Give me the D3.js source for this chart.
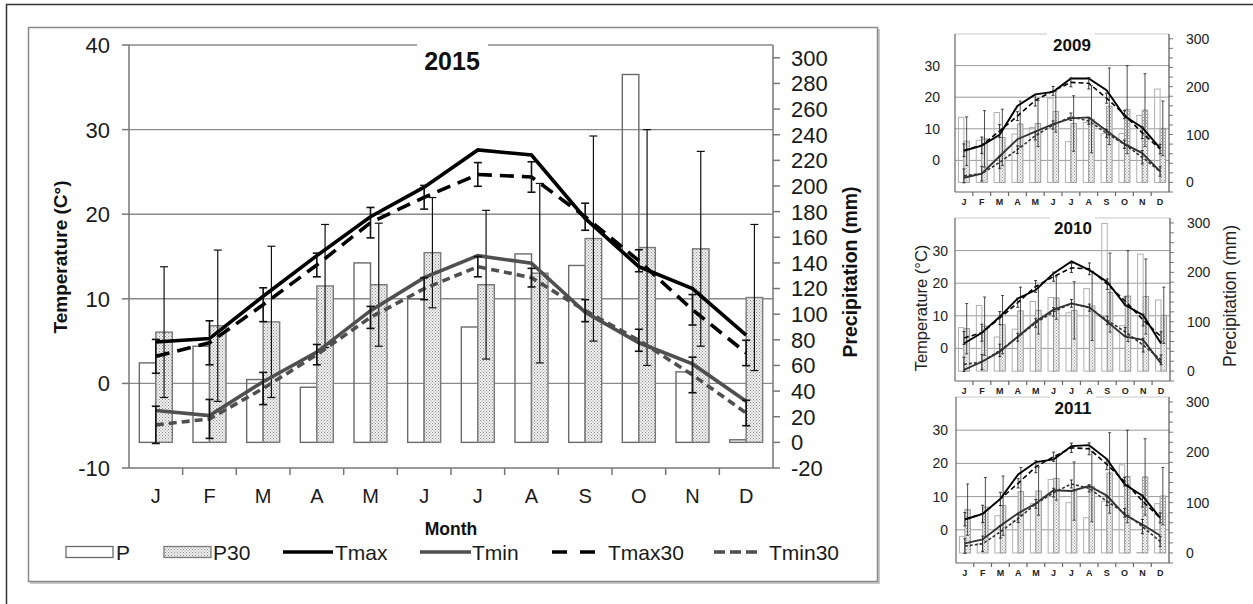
<!DOCTYPE html>
<html><head><meta charset="utf-8">
<script src="https://cdn.jsdelivr.net/npm/d3@7"></script>
<style>
body{margin:0;background:#fff}
svg{display:block}
text{font-family:"Liberation Sans",Arial,sans-serif}
</style>
</head><body>
<svg id="c" width="1253" height="604"></svg>
<script>
// ---------- DATA ----------
const months = ["J","F","M","A","M","J","J","A","S","O","N","D"];
const tempTicks = [-10,0,10,20,30,40];
const precipTicks = [-20,0,20,40,60,80,100,120,140,160,180,200,220,240,260,280,300];
const smallTempTicks = [0,10,20,30];
const smallPrecipTicks = [0,100,200,300];

// 30-year normals (same in every panel)
const P30      = [86, 91, 94, 122, 123, 148, 123, 132, 159, 152, 151, 113];
const P30err   = [51, 59, 59, 48, 48, 43, 58, 70, 80, 92, 76, 57];
const Tmax30   = [3.2, 4.8, 9.3, 14.0, 19.0, 22.0, 24.7, 24.4, 19.7, 14.5, 8.7, 3.6];
const Tmax30err= [2.0, 2.6, 2.0, 1.4, 1.8, 1.4, 1.4, 1.8, 1.6, 1.3, 1.8, 1.5];
const Tmin30   = [-4.9, -4.2, -0.6, 3.4, 7.8, 11.2, 13.8, 12.5, 8.6, 5.1, 1.0, -3.5];
const Tmin30err= [2.2, 2.3, 1.9, 1.2, 1.3, 1.3, 1.2, 1.1, 1.3, 1.3, 2.1, 1.5];

// 2015
const P2015    = [62, 75, 49, 43, 140, 112, 90, 147, 138, 287, 55, 2];
const Tmax2015 = [4.9, 5.3, 10.3, 15.1, 19.7, 23.2, 27.6, 27.0, 19.5, 13.8, 11.2, 5.7];
const Tmin2015 = [-3.2, -3.8, 0.2, 3.7, 8.6, 12.5, 15.1, 14.2, 8.4, 4.8, 2.3, -2.1];
// 2009
const P2009    = [136, 88, 146, 101, 115, 176, 85, 125, 102, 102, 140, 195];
const Tmax2009 = [3.0, 4.7, 8.1, 17.2, 20.9, 21.7, 25.9, 25.9, 22.2, 14.0, 10.4, 3.9];
const Tmin2009 = [-5.5, -4.2, 1.3, 6.7, 9.1, 11.5, 13.3, 13.6, 9.4, 5.2, 2.3, -3.5];
// 2010
const P2010    = [88, 133, 69, 85, 141, 149, 118, 167, 299, 92, 237, 144];
const Tmax2010 = [1.5, 4.8, 9.7, 15.3, 17.9, 23.0, 26.7, 24.0, 20.4, 13.3, 10.2, 1.5];
const Tmin2010 = [-6.6, -4.1, -1.0, 3.6, 8.2, 11.9, 13.8, 12.6, 8.2, 3.6, 2.6, -4.6];
// 2011
const P2011    = [33, 18, 74, 65, 98, 146, 100, 70, 103, 175, 1, 98];
const Tmax2011 = [3.1, 4.8, 9.3, 16.7, 20.4, 21.2, 25.2, 25.5, 21.3, 13.7, 10.3, 3.6];
const Tmin2011 = [-4.1, -2.9, 1.2, 5.0, 7.9, 11.9, 11.7, 13.2, 10.3, 4.5, 1.6, -1.7];

// ---------- DRAW ----------
const svg = d3.select("#c");
const defs = svg.append("defs");
function dotPattern(id, size, dot, bg, fg){
  const p = defs.append("pattern").attr("id",id).attr("patternUnits","userSpaceOnUse")
    .attr("width",size).attr("height",size);
  p.append("rect").attr("width",size).attr("height",size).attr("fill",bg);
  p.append("rect").attr("x",0).attr("y",0).attr("width",dot).attr("height",dot).attr("fill",fg);
  p.append("rect").attr("x",size/2).attr("y",size/2).attr("width",dot).attr("height",dot).attr("fill",fg);
}
dotPattern("dots", 3, 1, "#f2f2f2", "#8a8a8a");
dotPattern("dotsS", 3, 1, "#f4f4f4", "#999");

// outer frame
svg.append("rect").attr("x",6.5).attr("y",4.5).attr("width",1400).attr("height",800)
  .attr("fill","none").attr("stroke","#333").attr("stroke-width",1.5);
// main chart box with shadow
svg.append("rect").attr("x",30).attr("y",29).attr("width",850).attr("height",555).attr("fill","#c8c8c8");
svg.append("rect").attr("x",28.5).attr("y",27.5).attr("width",849).attr("height",554)
  .attr("fill","#fff").attr("stroke","#8a8a8a").attr("stroke-width",1.5);

function drawChart(c){
  const g = svg.append("g");
  const s = c.style;
  const x = d3.scaleBand().domain(d3.range(12)).range([c.x0, c.x1]).padding(0);
  const yT = d3.scaleLinear().domain([-10,40]).range([c.bottom, c.top]);
  const yP = d3.scaleLinear().domain([-20,310]).range([c.bottom, c.top]);
  const bw = x.bandwidth();
  const cx = i => x(i) + bw/2;
  const barW = bw * 0.615 / 2;

  // gridlines
  g.append("g").selectAll("line").data(c.grid).join("line")
    .attr("x1",c.x0).attr("x2",c.x1).attr("y1",d=>yT(d)).attr("y2",d=>yT(d))
    .attr("stroke",s.gridColor).attr("stroke-width",s.gridW);
  // top line (40) with gap for title
  const yTop = yT(40);
  g.append("line").attr("x1",c.x0).attr("x2",c.gap[0]).attr("y1",yTop).attr("y2",yTop)
    .attr("stroke",s.topColor).attr("stroke-width",s.gridW);
  g.append("line").attr("x1",c.gap[1]).attr("x2",c.x1).attr("y1",yTop).attr("y2",yTop)
    .attr("stroke",s.topColor).attr("stroke-width",s.gridW);

  // P bars (transparent)
  g.append("g").selectAll("rect").data(c.P).join("rect")
    .attr("x",(d,i)=>cx(i)-barW).attr("width",barW)
    .attr("y",d=>yP(d)).attr("height",d=>yP(0)-yP(d))
    .attr("fill","none").attr("stroke",s.pStroke).attr("stroke-width",s.barSW);
  // P30 bars
  g.append("g").selectAll("rect").data(P30).join("rect")
    .attr("x",(d,i)=>cx(i)).attr("width",barW)
    .attr("y",d=>yP(d)).attr("height",d=>yP(0)-yP(d))
    .attr("fill",s.pat).attr("stroke",s.p30Stroke).attr("stroke-width",s.barSW);

  function errBars(vals, errs, xf, scale, sw, cap, color){
    const eg = g.append("g").attr("stroke",color).attr("stroke-width",sw);
    vals.forEach((v,i)=>{
      const xx = xf(i), y1 = scale(v-errs[i]), y2 = scale(v+errs[i]);
      eg.append("line").attr("x1",xx).attr("x2",xx).attr("y1",y1).attr("y2",y2);
      eg.append("line").attr("x1",xx-cap/2).attr("x2",xx+cap/2).attr("y1",y1).attr("y2",y1);
      eg.append("line").attr("x1",xx-cap/2).attr("x2",xx+cap/2).attr("y1",y2).attr("y2",y2);
    });
  }
  errBars(P30, P30err, i=>cx(i)+barW/2, yP, s.errW, s.cap, s.errColor);

  const line = d3.line().x((d,i)=>cx(i)).y(d=>yT(d));
  g.append("path").datum(Tmin30).attr("d",line).attr("fill","none")
    .attr("stroke",s.minColor).attr("stroke-width",s.dashW).attr("stroke-dasharray",s.dashMin);
  g.append("path").datum(Tmax30).attr("d",line).attr("fill","none")
    .attr("stroke","#000").attr("stroke-width",s.dashW).attr("stroke-dasharray",s.dashMax);
  g.append("path").datum(c.Tmin).attr("d",line).attr("fill","none")
    .attr("stroke",s.minColor).attr("stroke-width",s.lineW);
  g.append("path").datum(c.Tmax).attr("d",line).attr("fill","none")
    .attr("stroke","#000").attr("stroke-width",s.lineW);

  errBars(Tmax30, Tmax30err, cx, yT, s.errW2, s.cap, s.errColor);
  errBars(Tmin30, Tmin30err, cx, yT, s.errW2, s.cap, s.errColor);

  // axes
  const axC = s.axisColor;
  g.append("line").attr("x1",c.x0).attr("x2",c.x0).attr("y1",c.top).attr("y2",c.bottom)
    .attr("stroke",axC).attr("stroke-width",s.axisW);
  g.append("line").attr("x1",c.x1).attr("x2",c.x1).attr("y1",c.top).attr("y2",c.bottom)
    .attr("stroke",s.rAxisColor).attr("stroke-width",s.axisW);
  g.append("line").attr("x1",c.x0).attr("x2",c.x1).attr("y1",c.bottom).attr("y2",c.bottom)
    .attr("stroke",axC).attr("stroke-width",s.axisW);

  // left ticks + labels
  g.append("g").selectAll("line").data(c.lTicks).join("line")
    .attr("x1",c.x0-s.tick).attr("x2",c.x0).attr("y1",d=>yT(d)).attr("y2",d=>yT(d))
    .attr("stroke",axC).attr("stroke-width",s.axisW);
  g.append("g").selectAll("text").data(c.lLabels).join("text")
    .attr("x",c.x0+c.lLabelDx).attr("y",d=>yT(d)).attr("dy","0.36em")
    .attr("text-anchor","end").attr("font-size",s.tickFont).attr("fill",s.textColor).text(d=>d);
  // right ticks + labels
  g.append("g").selectAll("line").data(precipTicks).join("line")
    .attr("x1",c.x1).attr("x2",c.x1+s.tick).attr("y1",d=>yP(d)).attr("y2",d=>yP(d))
    .attr("stroke",s.rAxisColor).attr("stroke-width",s.rTickW);
  g.append("g").selectAll("text").data(c.rLabels).join("text")
    .attr("x",c.x1+s.rLabelDx).attr("y",d=>yP(d)).attr("dy","0.36em")
    .attr("text-anchor","start").attr("font-size",s.tickFont).attr("fill",s.textColor).text(d=>d);
  // bottom ticks between months
  g.append("g").selectAll("line").data(d3.range(1,12)).join("line")
    .attr("x1",i=>x(i)).attr("x2",i=>x(i)).attr("y1",c.bottom).attr("y2",c.bottom+s.tick)
    .attr("stroke",axC).attr("stroke-width",s.axisW);
  g.append("g").selectAll("text").data(months).join("text")
    .attr("x",(d,i)=>cx(i)).attr("y",c.bottom+s.monthDy)
    .attr("text-anchor","middle").attr("font-size",s.monthFont)
    .attr("font-weight",s.monthWeight).attr("fill",s.textColor).text(d=>d);

  // title
  g.append("text").attr("x",c.titleX).attr("y",c.titleY).attr("text-anchor","middle")
    .attr("font-size",s.titleFont).attr("font-weight","bold").attr("fill","#111").text(c.title);
}

const mainStyle = {gridColor:"#8a8a8a", topColor:"#8a8a8a", gridW:1.4, pStroke:"#6a6a6a", p30Stroke:"#7a7a7a",
  barSW:1.4, pat:"url(#dots)", errW:1.2, errW2:1.6, cap:8, errColor:"#111", minColor:"#4f4f4f",
  dashW:3.6, dashMax:"14,8", dashMin:"8,5", lineW:3.6, axisColor:"#777", rAxisColor:"#777", axisW:1.5, rTickW:1.5,
  tick:7, tickFont:22, rLabelDx:18, textColor:"#1a1a1a", monthDy:35, monthFont:20,
  monthWeight:"normal", titleFont:25};

drawChart({x0:129, x1:773, top:45, bottom:468, P:P2015, Tmax:Tmax2015, Tmin:Tmin2015,
  grid:[0,10,20,30], gap:[417,488], lTicks:tempTicks, lLabels:tempTicks, rLabels:precipTicks, lLabelDx:-19,
  title:"2015", titleX:452, titleY:70, style:mainStyle});

const smallStyle = {gridColor:"#9a9a9a", topColor:"#c8c8c8", gridW:1, pStroke:"#b0b0b0", p30Stroke:"#9a9a9a",
  barSW:1, pat:"url(#dotsS)", errW:0.8, errW2:0.9, cap:3, errColor:"#222", minColor:"#333",
  dashW:1.6, dashMax:"5,3", dashMin:"3,2", lineW:1.9, axisColor:"#666", rAxisColor:"#555", axisW:1.2, rTickW:0.8,
  tick:4, tickFont:14, rLabelDx:17, textColor:"#222", monthDy:13, monthFont:9,
  monthWeight:"bold", titleFont:17};

drawChart({x0:955, x1:1169, top:34, bottom:192, P:P2009, Tmax:Tmax2009, Tmin:Tmin2009,
  grid:[0,10,20,30], gap:[1047,1095], lTicks:[], lLabels:smallTempTicks, rLabels:smallPrecipTicks, lLabelDx:-15,
  title:"2009", titleX:1072, titleY:51, style:smallStyle});
drawChart({x0:955, x1:1170, top:218, bottom:381, P:P2010, Tmax:Tmax2010, Tmin:Tmin2010,
  grid:[0,10,20,30], gap:[1050,1095], lTicks:[], lLabels:smallTempTicks, rLabels:smallPrecipTicks, lLabelDx:-7,
  title:"2010", titleX:1073, titleY:234, style:smallStyle});
drawChart({x0:956, x1:1169, top:397, bottom:563, P:P2011, Tmax:Tmax2011, Tmin:Tmin2011,
  grid:[0,10,20,30], gap:[1050,1096], lTicks:[], lLabels:smallTempTicks, rLabels:smallPrecipTicks, lLabelDx:-8,
  title:"2011", titleX:1073, titleY:414, style:smallStyle});

// axis titles
svg.append("text").attr("transform","translate(67,257) rotate(-90)").attr("text-anchor","middle")
  .attr("font-size",19).attr("font-weight","bold").attr("fill","#111").text("Temperature (C°)");
svg.append("text").attr("transform","translate(857,272) rotate(-90)").attr("text-anchor","middle")
  .attr("font-size",19.5).attr("font-weight","bold").attr("fill","#111").text("Precipitation (mm)");
svg.append("text").attr("x",451).attr("y",535).attr("text-anchor","middle")
  .attr("font-family","DejaVu Sans").attr("font-size",17.5).attr("font-weight","bold").attr("fill","#111").text("Month");
svg.append("text").attr("transform","translate(927,308) rotate(-90)").attr("text-anchor","middle")
  .attr("font-size",16.5).attr("fill","#222").text("Temperature (°C)");
svg.append("text").attr("transform","translate(1236,296) rotate(-90)").attr("text-anchor","middle")
  .attr("font-size",17.5).attr("fill","#222").text("Precipitation (mm)");

// legend
const leg = svg.append("g");
const ly = 552;
leg.append("rect").attr("x",66).attr("y",ly-5.5).attr("width",47).attr("height",11)
  .attr("fill","#fff").attr("stroke","#6a6a6a").attr("stroke-width",1.3);
leg.append("rect").attr("x",164).attr("y",ly-5.5).attr("width",47).attr("height",11)
  .attr("fill","url(#dots)").attr("stroke","#7a7a7a").attr("stroke-width",1.3);
const legLines = [
  {x1:283, x2:333, color:"#000", dash:null},
  {x1:420, x2:471, color:"#4f4f4f", dash:null},
  {x1:552, x2:597, color:"#000", dash:"15,13"},
  {x1:714, x2:760, color:"#4f4f4f", dash:"11,5"}
];
legLines.forEach(d=>{
  leg.append("line").attr("x1",d.x1).attr("x2",d.x2).attr("y1",ly).attr("y2",ly)
    .attr("stroke",d.color).attr("stroke-width",3.6).attr("stroke-dasharray",d.dash);
});
const legTexts = [{x:116,t:"P"},{x:213,t:"P30"},{x:335,t:"Tmax"},{x:472,t:"Tmin"},{x:608,t:"Tmax30"},{x:769,t:"Tmin30"}];
leg.selectAll("text").data(legTexts).join("text").attr("x",d=>d.x).attr("y",ly+7.5)
  .attr("font-size",21).attr("fill","#1a1a1a").text(d=>d.t);
</script>
</body></html>
